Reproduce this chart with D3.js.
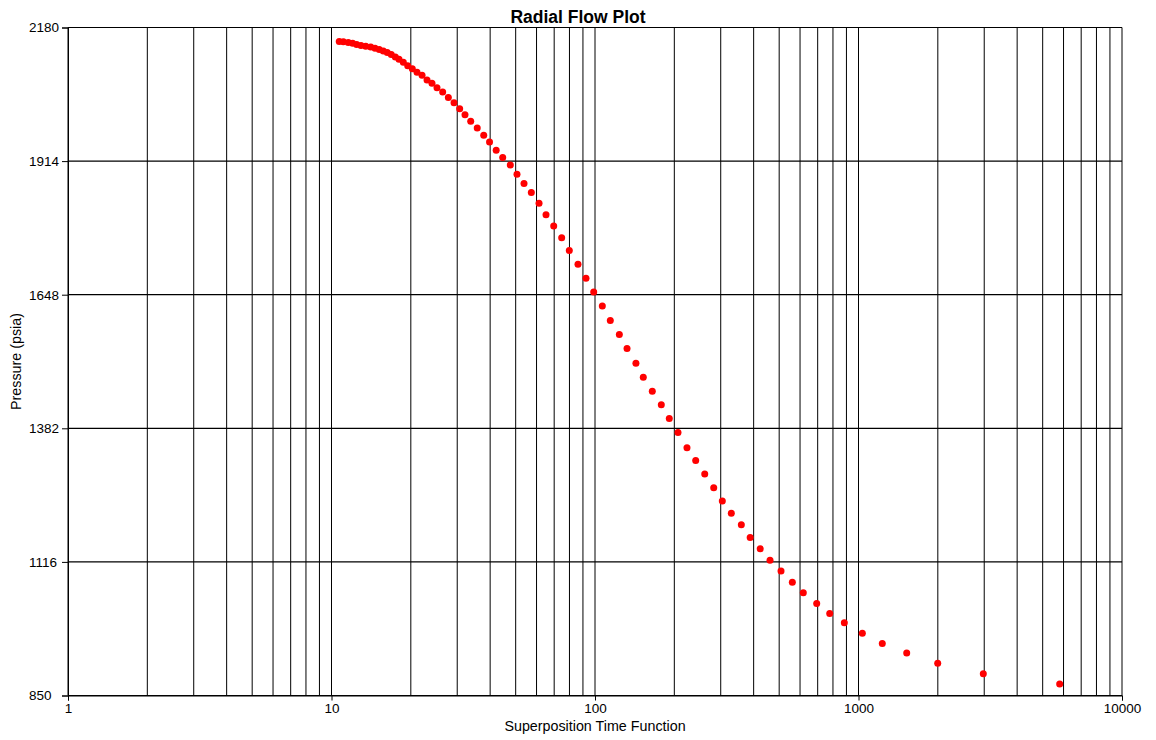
<!DOCTYPE html>
<html>
<head>
<meta charset="utf-8">
<script src="https://cdn.jsdelivr.net/npm/d3@7"></script>
<style>
  html, body { margin: 0; padding: 0; background: #fff; }
  svg { display: block; font-family: "Liberation Sans", Arial, sans-serif; }
</style>
</head>
<body>
<svg id="chart" width="1156" height="740"></svg>
<script>
// ---- Data ----
const superpositionTime = [
  10.70, 11.09, 11.58, 12.03, 12.46, 12.94, 13.49, 14.09, 14.63, 15.18,
  15.73, 16.28, 16.86, 17.47, 18.04, 18.73, 19.46, 20.26, 21.11, 22.06,
  23.04, 24.06, 25.14, 26.42, 27.76, 29.17, 30.65, 32.11, 33.75, 35.73,
  37.82, 39.79, 42.17, 44.64, 47.71, 50.58, 53.78, 57.33, 61.32, 65.17,
  69.71, 74.74, 79.89, 86.19, 92.43, 98.88, 106.6, 114.3, 123.7, 132.3,
  143.0, 152.5, 165.0, 178.5, 191.4, 206.5, 223.4, 241.1, 260.9, 282.2,
  304.2, 329.1, 359.2, 388.1, 423.7, 461.5, 508.1, 560.9, 617.3, 694.0,
  777.6, 883.5, 1034, 1231, 1524, 1998, 2976, 5801
];
const pressure = [
  2152.0, 2151.4, 2150.0, 2148.8, 2146.0, 2144.0, 2142.8, 2141.4, 2138.8, 2136.0,
  2133.4, 2130.0, 2126.0, 2121.4, 2116.8, 2110.8, 2104.0, 2098.0, 2090.8, 2084.8,
  2075.4, 2068.8, 2060.0, 2051.4, 2040.8, 2030.0, 2018.4, 2006.4, 1993.4, 1979.8,
  1965.4, 1951.8, 1935.8, 1921.4, 1906.4, 1887.8, 1869.4, 1851.4, 1830.0, 1807.4,
  1784.8, 1761.4, 1736.0, 1708.8, 1680.8, 1653.4, 1625.4, 1596.4, 1568.8, 1540.8,
  1511.4, 1483.4, 1456.0, 1428.8, 1401.4, 1373.4, 1343.4, 1318.0, 1290.8, 1263.4,
  1237.4, 1212.8, 1190.0, 1164.8, 1142.0, 1119.4, 1098.0, 1075.4, 1054.8, 1033.4,
  1013.4, 994.8, 974.0, 953.4, 934.8, 914.0, 893.4, 872.8
];
const yTicks = [850, 1116, 1382, 1648, 1914, 2180];
const xMajorTicks = [1, 10, 100, 1000, 10000];
const xMinorTicks = [2,3,4,5,6,7,8,9, 20,30,40,50,60,70,80,90,
                     200,300,400,500,600,700,800,900, 2000,3000,4000,5000,6000,7000,8000,9000];
const titleText = "Radial Flow Plot";
const xTitle = "Superposition Time Function";
const yTitle = "Pressure (psia)";

// ---- Layout ----
const W = 1156;
const svg = d3.select("#chart");
const pLeft = 68, pRight = 1122, pTop = 27.5, pBottom = 695.5;

const x = d3.scaleLog().domain([1, 10000]).range([pLeft, pRight]);
const y = d3.scaleLinear().domain([850, 2180]).range([pBottom, pTop]);

const grid = svg.append("g");
grid.selectAll("line.v")
  .data(xMajorTicks.concat(xMinorTicks))
  .join("line")
  .attr("x1", d => x(d)).attr("x2", d => x(d))
  .attr("y1", pTop).attr("y2", pBottom)
  .attr("stroke", "#000").attr("stroke-width", 1);
grid.selectAll("line.h")
  .data(yTicks)
  .join("line")
  .attr("x1", pLeft).attr("x2", pRight)
  .attr("y1", d => y(d)).attr("y2", d => y(d))
  .attr("stroke", "#000").attr("stroke-width", 1.2);

const yAxis = d3.axisLeft(y).tickValues(yTicks).tickSize(6).tickPadding(3).tickFormat(d3.format("d"));
const gy = svg.append("g").attr("transform", `translate(${pLeft},0)`).call(yAxis);
gy.select(".domain").attr("stroke", "#000");
gy.selectAll("text").attr("font-size", 13.5).attr("fill", "#000")
  .attr("font-family", "'Liberation Sans', Arial, sans-serif")
  .attr("text-anchor", "start")
  .attr("x", 29 - pLeft);

const xAxis = d3.axisBottom(x).tickValues(xMajorTicks).tickSize(5).tickPadding(3).tickFormat(d3.format("d"));
const gx = svg.append("g").attr("transform", `translate(0,${pBottom})`).call(xAxis);
gx.select(".domain").attr("stroke", "#000");
gx.selectAll("text").attr("font-size", 13.5).attr("fill", "#000")
  .attr("font-family", "'Liberation Sans', Arial, sans-serif");

svg.append("g").selectAll("circle")
  .data(superpositionTime.map((t, i) => [t, pressure[i]]))
  .join("circle")
  .attr("cx", d => x(d[0]))
  .attr("cy", d => y(d[1]))
  .attr("r", 3.5)
  .attr("fill", "#ff0000");

svg.append("text")
  .attr("x", W / 2).attr("y", 22.5)
  .attr("text-anchor", "middle")
  .attr("font-size", 17.5).attr("font-weight", "bold")
  .text(titleText);

svg.append("text")
  .attr("x", (pLeft + pRight) / 2).attr("y", 730.5)
  .attr("text-anchor", "middle")
  .attr("font-size", 14.3)
  .text(xTitle);

svg.append("text")
  .attr("transform", `translate(21,${(pTop + pBottom) / 2}) rotate(-90)`)
  .attr("text-anchor", "middle")
  .attr("font-size", 14.3)
  .text(yTitle);
</script>
</body>
</html>
